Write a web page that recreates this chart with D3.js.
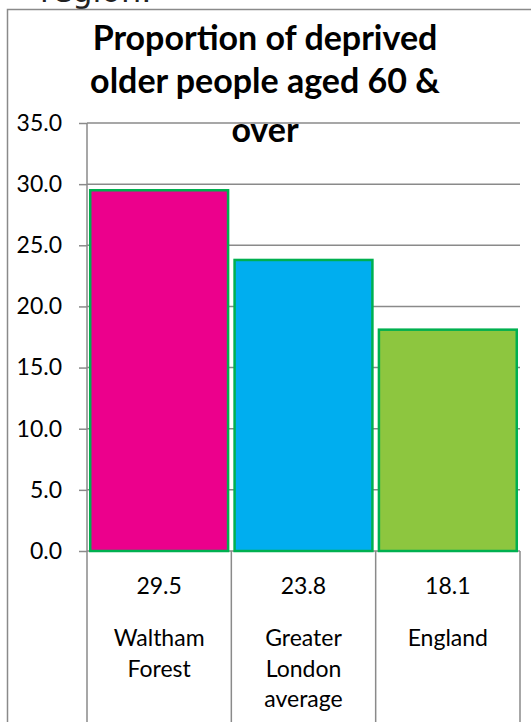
<!DOCTYPE html>
<html>
<head>
<meta charset="utf-8">
<script src="https://cdn.jsdelivr.net/npm/d3@7"></script>
<style>
  html, body { margin: 0; padding: 0; background: #fff; }
  svg { display: block; }
  text { font-family: Lato, "Noto Sans", sans-serif; fill: #000; }
</style>
</head>
<body>
<script>
// Chart data
const categories = ["Waltham Forest", "Greater London average", "England"];
const labelLines = [["Waltham", "Forest"], ["Greater", "London", "average"], ["England"]];
const values = [29.5, 23.8, 18.1];
const colors = ["#EC008C", "#00AEEF", "#8DC63F"];
const yTicks = [0, 5, 10, 15, 20, 25, 30, 35];
const titleLines = ["Proportion of deprived", "older people aged 60 &", "over"];

const W = 531, H = 722;
const svg = d3.select("body").append("svg").attr("width", W).attr("height", H);

// Trailing text from the surrounding document, cut off at the top edge
svg.append("text")
  .attr("x", 40).attr("y", 2)
  .style("font-family", "'DejaVu Sans', sans-serif")
  .style("font-size", "32px")
  .style("fill", "#222")
  .text("region.");

// Outer chart frame (continues past the right and bottom edges)
svg.append("rect")
  .attr("x", 7.5).attr("y", 9.5)
  .attr("width", 560).attr("height", 760)
  .attr("fill", "none").attr("stroke", "#8a8a8a").attr("stroke-width", 1.5);

const plot = { left: 87, right: 520, top: 123, bottom: 551 };

const x = d3.scaleBand()
  .domain(categories)
  .range([plot.left, plot.right])
  .paddingInner(0.045)
  .paddingOuter(0.0225);

const y = d3.scaleLinear().domain([0, 35]).range([plot.bottom, plot.top]);

// Gridlines
svg.append("g")
  .selectAll("line")
  .data(yTicks)
  .join("line")
  .attr("x1", plot.left).attr("x2", plot.right)
  .attr("y1", d => y(d)).attr("y2", d => y(d))
  .attr("stroke", "#8a8a8a").attr("stroke-width", 1.5);

// Y axis with tick marks and labels
const yAxis = d3.axisLeft(y)
  .tickValues(yTicks)
  .tickFormat(d3.format(".1f"))
  .tickSize(8)
  .tickPadding(17);

const gy = svg.append("g")
  .attr("transform", `translate(${plot.left},0)`)
  .call(yAxis);
gy.select(".domain").remove();
gy.selectAll(".tick line").attr("stroke", "#8a8a8a").attr("stroke-width", 1.5);
gy.selectAll(".tick text")
  .style("font-family", "Lato, sans-serif")
  .style("font-size", "23px")
  .attr("fill", "#000");

// Bars
svg.append("g")
  .selectAll("rect")
  .data(values)
  .join("rect")
  .attr("x", (d, i) => x(categories[i]))
  .attr("y", d => y(d))
  .attr("width", x.bandwidth())
  .attr("height", d => y(0) - y(d))
  .attr("fill", (d, i) => colors[i])
  .attr("stroke", "#00B050")
  .attr("stroke-width", 2.5);

// Axis line and data table dividers
const step = x.step();
const dividers = d3.range(categories.length + 1).map(i => plot.left + i * step);
svg.append("g")
  .selectAll("line")
  .data(dividers)
  .join("line")
  .attr("x1", d => d).attr("x2", d => d)
  .attr("y1", (d, i) => i === 0 ? plot.top : plot.bottom)
  .attr("y2", H + 10)
  .attr("stroke", "#8a8a8a").attr("stroke-width", 1.5);

// Data table: value row and category labels
const table = svg.append("g");
categories.forEach((c, i) => {
  const cx = plot.left + (i + 0.5) * step;
  table.append("text")
    .attr("x", cx).attr("y", 594)
    .attr("text-anchor", "middle")
    .style("font-size", "23px")
    .text(values[i].toFixed(1));
  labelLines[i].forEach((ln, j) => {
    table.append("text")
      .attr("x", cx).attr("y", 646 + j * 30.5)
      .attr("text-anchor", "middle")
      .style("font-size", "23px")
      .text(ln);
  });
});

// Title
const titleBaselines = [50, 93, 142];
const title = svg.append("g");
titleLines.forEach((t, i) => {
  title.append("text")
    .attr("x", 265).attr("y", titleBaselines[i])
    .attr("text-anchor", "middle")
    .style("font-size", "34px")
    .style("font-weight", "bold")
    .text(t);
});
</script>
</body>
</html>
